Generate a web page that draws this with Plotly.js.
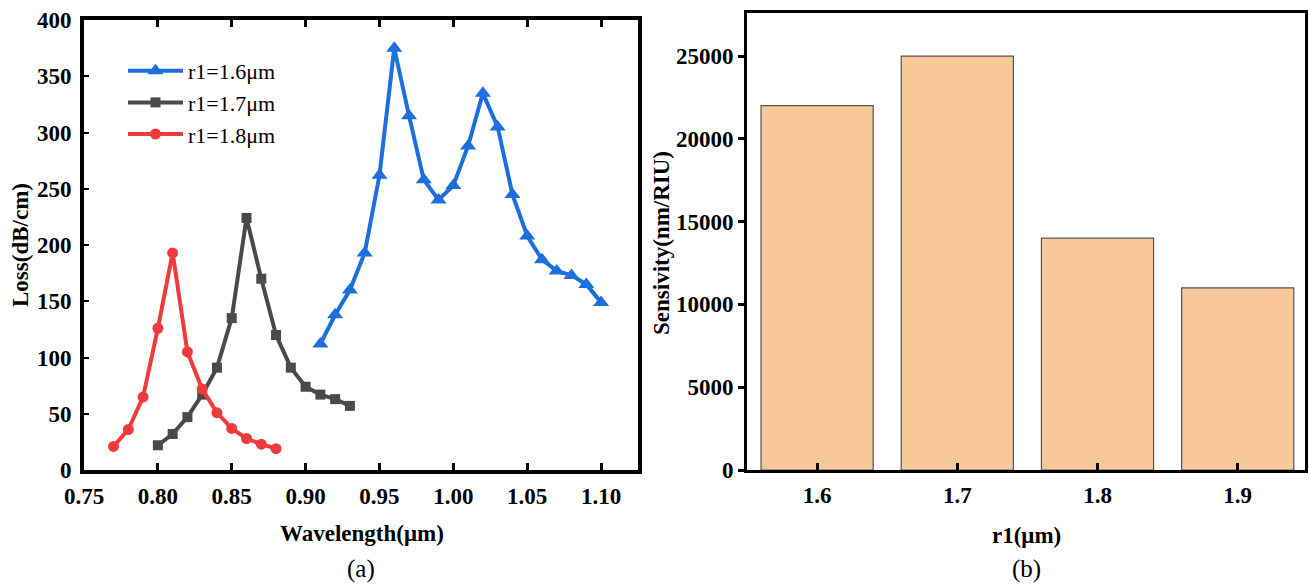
<!DOCTYPE html>
<html>
<head>
<meta charset="utf-8">
<script src="https://cdn.plot.ly/plotly-3.0.1.min.js"></script>
<style>html,body{margin:0;padding:0;background:#fff;}#chart{width:1309px;height:584px;}</style>
</head>
<body>
<div id="chart"></div>
<script>
// Panel (a): loss spectra
const wl16 = [0.91,0.92,0.93,0.94,0.95,0.96,0.97,0.98,0.99,1.00,1.01,1.02,1.03,1.04,1.05,1.06,1.07,1.08,1.09,1.10];
const loss16 = [112,138,160,193,262,375,315,258,240,253,288,335,305,245,208,187,177,173,165,149];
const wl17 = [0.80,0.81,0.82,0.83,0.84,0.85,0.86,0.87,0.88,0.89,0.90,0.91,0.92,0.93];
const loss17 = [22,32,47,67,91,135,224,170,120,91,74,67,63,57];
const wl18 = [0.77,0.78,0.79,0.80,0.81,0.82,0.83,0.84,0.85,0.86,0.87,0.88];
const loss18 = [21,36,65,126,193,105,72,51,37,28,23,19];
const seriesNames = ["r1=1.6μm","r1=1.7μm","r1=1.8μm"];
const xTicksA = [0.75,0.80,0.85,0.90,0.95,1.00,1.05,1.10];
const xTickTextA = ["0.75","0.80","0.85","0.90","0.95","1.00","1.05","1.10"];
const yTicksA = [0,50,100,150,200,250,300,350,400];

// Panel (b): sensitivity
const r1Cats = [1.6,1.7,1.8,1.9];
const r1Labels = ["1.6","1.7","1.8","1.9"];
const sensitivity = [22000,25000,14000,11000];
const yTicksB = [0,5000,10000,15000,20000,25000];
const yTickTextB = ["0","5000","10000","15000","20000","25000"];

const FONT = "Liberation Serif";
const W = 1309, H = 584;
const px = v => v / W;
const py = v => (H - v) / H;

const traces = [
  {x: wl16, y: loss16, name: seriesNames[0], type: "scatter", mode: "lines+markers",
   line: {color: "#1c6fdc", width: 4}, marker: {symbol: "triangle-up", size: 14, color: "#1c6fdc"},
   xaxis: "x", yaxis: "y"},
  {x: wl17, y: loss17, name: seriesNames[1], type: "scatter", mode: "lines+markers",
   line: {color: "#4a4a4a", width: 4}, marker: {symbol: "square", size: 10, color: "#4a4a4a"},
   xaxis: "x", yaxis: "y"},
  {x: wl18, y: loss18, name: seriesNames[2], type: "scatter", mode: "lines+markers",
   line: {color: "#ef3b3d", width: 4}, marker: {symbol: "circle", size: 11, color: "#ef3b3d"},
   xaxis: "x", yaxis: "y"},
  {x: r1Cats, y: sensitivity, type: "bar", width: 0.08, showlegend: false,
   marker: {color: "#f9c898", line: {color: "#555555", width: 1.2}},
   xaxis: "x2", yaxis: "y2"}
];

const tickFontB = {family: FONT, size: 23, color: "#000", weight: "bold"};
const titleFont = {family: FONT, size: 23, color: "#000", weight: "bold"};
const capFont = {family: FONT, size: 25, color: "#000"};

const layout = {
  width: W, height: H,
  font: {family: FONT, color: "#000"},
  margin: {l: 0, r: 0, t: 0, b: 0},
  paper_bgcolor: "#fff", plot_bgcolor: "#fff",
  showlegend: true,
  legend: {x: px(123), y: py(50), xanchor: "left", yanchor: "top", bgcolor: "rgba(0,0,0,0)",
           font: {family: FONT, size: 22, color: "#000"}, itemwidth: 55, tracegroupgap: 0},
  xaxis: {domain: [px(84), px(638)], range: [0.75, 1.125], anchor: "y",
          tickvals: xTicksA, ticktext: xTickTextA, ticks: "inside", ticklen: 7, tickwidth: 3,
          tickcolor: "#000", showline: true, linewidth: 4, linecolor: "#000", mirror: "ticks",
          showgrid: false, zeroline: false, tickfont: tickFontB, ticklabelstandoff: 2},
  yaxis: {domain: [py(470), py(20)], range: [0, 400], anchor: "x",
          tickvals: yTicksA, ticks: "inside", ticklen: 5, tickwidth: 2, tickcolor: "#000",
          showline: true, linewidth: 4, linecolor: "#000", mirror: true,
          showgrid: false, zeroline: false, tickfont: tickFontB, ticklabelstandoff: 4},
  xaxis2: {domain: [px(747), px(1305)], range: [1.55, 1.948], anchor: "y2",
           tickvals: r1Cats, ticktext: r1Labels, ticks: "inside", ticklen: 7, tickwidth: 3,
           tickcolor: "#000", showline: true, linewidth: 3, linecolor: "#000", mirror: true,
           showgrid: false, zeroline: false, tickfont: tickFontB, ticklabelstandoff: 2},
  yaxis2: {domain: [py(470), py(13)], range: [0, 27600], anchor: "x2",
           tickvals: yTicksB, ticktext: yTickTextB, ticks: "outside", ticklen: 6, tickwidth: 3, tickcolor: "#000",
           showline: true, linewidth: 3, linecolor: "#000", mirror: true,
           showgrid: false, zeroline: false, tickfont: tickFontB},
  annotations: [
    {text: "Wavelength(μm)", xref: "paper", yref: "paper", x: px(362), y: py(533),
     xanchor: "center", yanchor: "middle", showarrow: false, font: titleFont},
    {text: "Loss(dB/cm)", xref: "paper", yref: "paper", x: px(21), y: py(245),
     xanchor: "center", yanchor: "middle", showarrow: false, textangle: -90, font: titleFont},
    {text: "(a)", xref: "paper", yref: "paper", x: px(361), y: py(569),
     xanchor: "center", yanchor: "middle", showarrow: false, font: capFont},
    {text: "r1(μm)", xref: "paper", yref: "paper", x: px(1026), y: py(535),
     xanchor: "center", yanchor: "middle", showarrow: false, font: titleFont},
    {text: "Sensivity(nm/RIU)", xref: "paper", yref: "paper", x: px(661), y: py(243),
     xanchor: "center", yanchor: "middle", showarrow: false, textangle: -90, font: titleFont},
    {text: "(b)", xref: "paper", yref: "paper", x: px(1026), y: py(569),
     xanchor: "center", yanchor: "middle", showarrow: false, font: capFont}
  ]
};

Plotly.newPlot("chart", traces, layout, {staticPlot: true, displayModeBar: false});
</script>
</body>
</html>
